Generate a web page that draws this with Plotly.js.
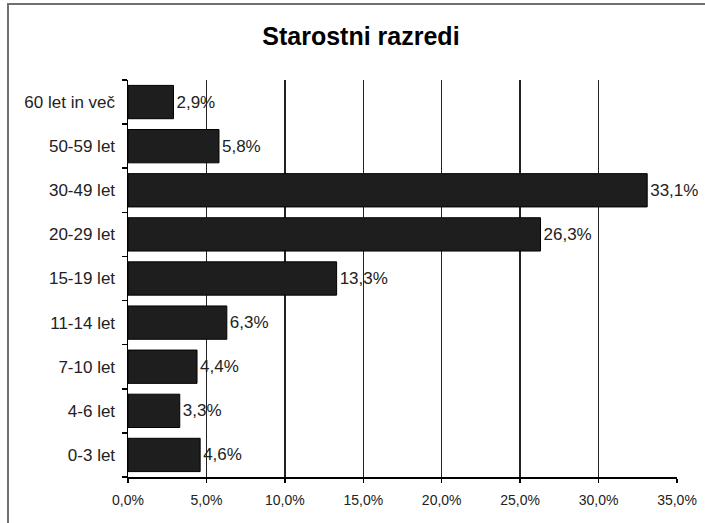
<!DOCTYPE html>
<html>
<head>
<meta charset="utf-8">
<script src="https://cdn.plot.ly/plotly-3.0.1.min.js"></script>
<style>
  html, body { margin: 0; padding: 0; background: #fff; }
  #chart { width: 705px; height: 523px; }
</style>
</head>
<body>
<div id="chart"></div>
<script>
// Age groups, bottom to top
const categories = ['0-3 let', '4-6 let', '7-10 let', '11-14 let', '15-19 let',
                    '20-29 let', '30-49 let', '50-59 let', '60 let in več'];
// Share of each age group (%)
const shares = [4.6, 3.3, 4.4, 6.3, 13.3, 26.3, 33.1, 5.8, 2.9];
// X axis tick values (%) and their labels
const tickValues = [0, 5, 10, 15, 20, 25, 30, 35];
const tickLabels = ['0,0%', '5,0%', '10,0%', '15,0%', '20,0%', '25,0%', '30,0%', '35,0%'];

const font = 'Liberation Sans, Arial, sans-serif';

const trace = {
  type: 'bar',
  orientation: 'h',
  y: categories,
  x: shares,
  marker: { color: '#1e1e1e', line: { color: '#000', width: 1 } },
  texttemplate: '%{x:.1f}%',
  textposition: 'outside',
  textfont: { family: font, size: 17, color: '#222' },
  constraintext: 'none',
  cliponaxis: false,
  hoverinfo: 'skip'
};

const layout = {
  width: 705,
  height: 523,
  margin: { l: 128, r: 28, t: 80, b: 46 },
  paper_bgcolor: '#fff',
  plot_bgcolor: '#fff',
  separators: ',.',
  showlegend: false,
  bargap: 0.245,
  font: { family: font, color: '#222' },
  title: {
    text: '<b>Starostni razredi</b>',
    font: { family: font, size: 25, color: '#000' },
    x: 0.512, xref: 'container', xanchor: 'center',
    y: 0.93, yref: 'container', yanchor: 'middle'
  },
  xaxis: {
    range: [0, 35],
    tickmode: 'array',
    tickvals: tickValues,
    ticktext: tickLabels,
    ticks: 'outside',
    ticklen: 4,
    tickwidth: 1.5,
    tickcolor: '#000',
    ticklabelstandoff: 6,
    tickfont: { family: font, size: 14, color: '#222' },
    showgrid: true,
    gridcolor: '#222',
    gridwidth: 1.5,
    zeroline: false,
    showline: true,
    linecolor: '#000',
    linewidth: 1.5,
    fixedrange: true
  },
  yaxis: {
    type: 'category',
    ticks: 'outside',
    ticklen: 5,
    tickwidth: 1.5,
    tickcolor: '#000',
    tickson: 'boundaries',
    ticklabelstandoff: 8,
    tickfont: { family: font, size: 17, color: '#222' },
    showgrid: false,
    zeroline: false,
    showline: true,
    linecolor: '#000',
    linewidth: 1.5,
    fixedrange: true
  },
  shapes: [{
    type: 'rect',
    xref: 'paper', yref: 'paper',
    x0: -0.2186, x1: 1.0638,
    y0: -0.1335, y1: 1.1914,
    line: { color: '#707070', width: 2 },
    fillcolor: 'rgba(0,0,0,0)',
    layer: 'below'
  }]
};

Plotly.newPlot('chart', [trace], layout, { displayModeBar: false, staticPlot: true });
</script>
</body>
</html>
